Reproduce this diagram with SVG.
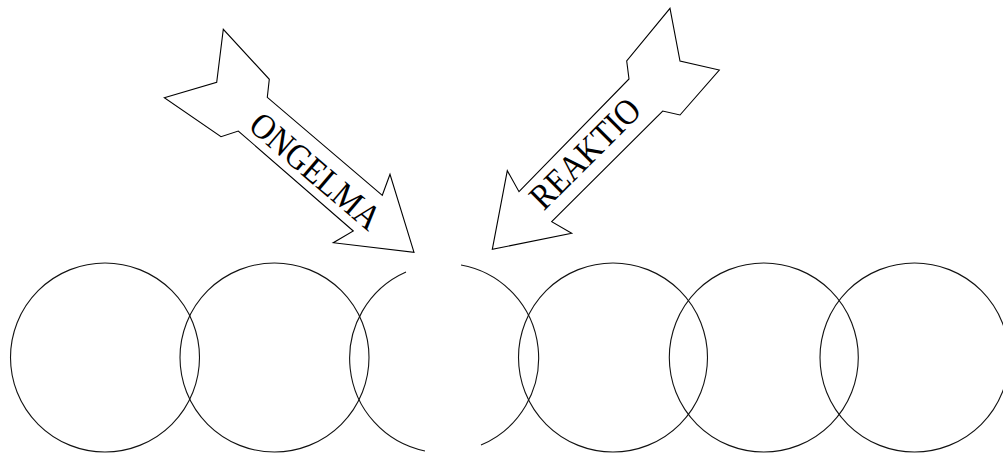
<svg xmlns="http://www.w3.org/2000/svg" width="1003" height="454" viewBox="0 0 1003 454">
<style>
.c{fill:none;stroke:#111;stroke-width:1.1}
.a{fill:#fff;stroke:#000;stroke-width:1.1;stroke-linejoin:miter}
.t{font-family:"Liberation Serif","Times New Roman",serif;font-size:32px;fill:#000;text-anchor:middle}
</style>
<rect width="1003" height="454" fill="#fff"/>
<g id="rings">
<circle id="ring1" class="c" cx="105" cy="357.5" r="94.5"/>
<circle id="ring2" class="c" cx="274.5" cy="357.5" r="94.5"/>
<path id="ring3" class="c" d="M406 272 A94.5 94.5 0 0 0 425 451 M461 265 A94.5 94.5 0 0 1 481 445"/>
<circle id="ring4" class="c" cx="613" cy="357.5" r="94.5"/>
<circle id="ring5" class="c" cx="763.8" cy="357.5" r="94.5"/>
<circle id="ring6" class="c" cx="914.5" cy="357.5" r="94.5"/>
</g>
<g id="arrow-ongelma">
<polygon class="a" points="164.3,97.7 216.7,82.3 223.3,29.3 269.3,79.3 267.3,97.3 382.3,195.3 390,174.3 414,252.3 333.3,242.7 353.3,231 238.3,131 221,136.7"/>
<text class="t" transform="translate(315.5,171) rotate(40.5) scale(1,1.12)" x="0" y="10.7">ONGELMA</text>
</g>
<g id="arrow-reaktio">
<polygon class="a" points="670,8.3 680,61 719.3,70 680,115 662.7,111 551.7,221.7 571.7,233.3 492.3,249.3 507.3,170.7 519,191.7 629,79 626.7,61"/>
<text class="t" transform="translate(585,153.5) rotate(-45) scale(1,1.12)" x="0" y="10.7">REAKTIO</text>
</g>
</svg>
